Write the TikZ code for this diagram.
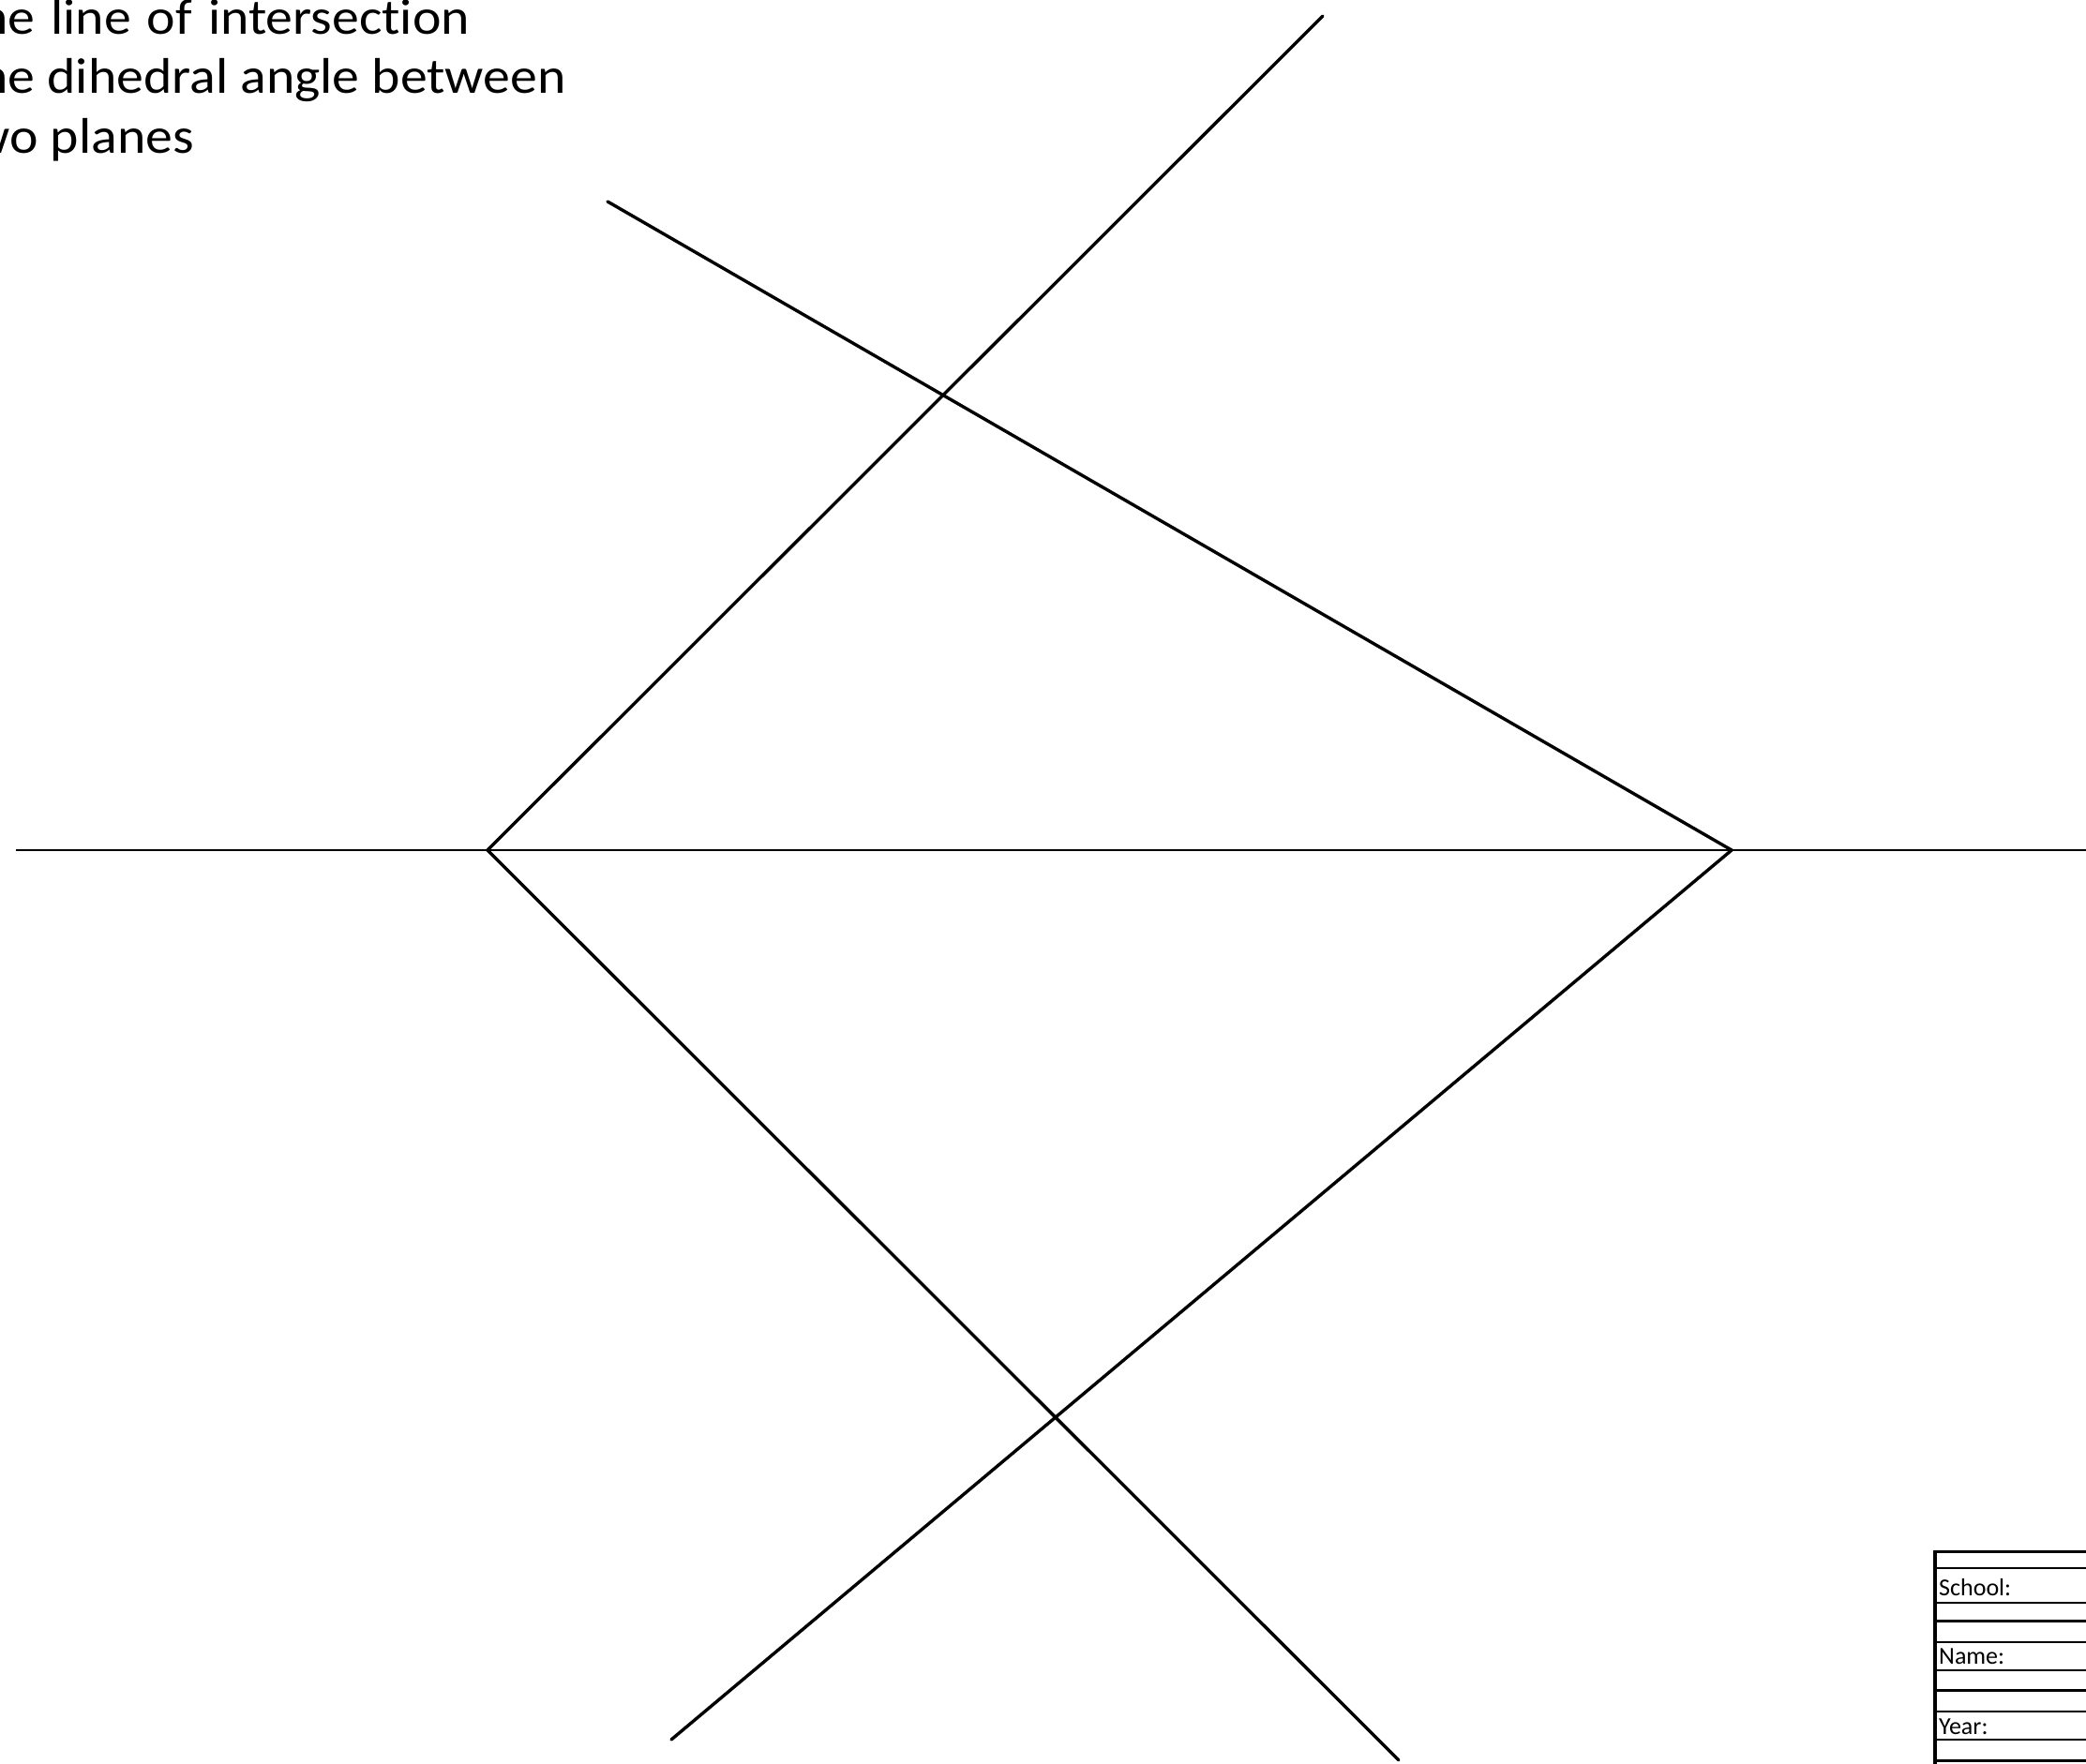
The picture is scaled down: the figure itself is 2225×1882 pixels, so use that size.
\documentclass[tikz,border=0pt]{standalone}
\usepackage{fontspec}
\setmainfont{Carlito}[Ligatures=NoCommon]
\newfontfamily\capfont{Carlito}[FakeStretch=1.08, Ligatures=NoCommon]
\tikzset{
  plane/.style={line width=3.4pt, line cap=round, line join=miter},
  axis/.style={line width=2.4pt},
  thickrule/.style={line width=3pt},
  thinrule/.style={line width=1.4pt},
  label/.style={inner sep=0pt, anchor=base west, font=\fontsize{26}{31}\selectfont},
  caption/.style={inner sep=0pt, anchor=base west, font=\capfont\fontsize{53.5}{63.5}\selectfont}
}
\begin{document}
\begin{tikzpicture}[x=1pt,y=-1pt]
\useasboundingbox (0,0) rectangle (2225,1882);
\clip (0,0) rectangle (2225,1882);
% caption text (left part cut off by page edge)
\node[caption] (t1) at (-50,36) {\spaceskip=17pt The line of intersection};
\node[caption] (t2) at (-50,99.5) {The dihedral angle between};
\node[caption] (t3) at (-50,163) {two planes};
% key points
\coordinate (L) at (520,907);
\coordinate (R) at (1847,907);
\coordinate (axL) at (17,907);
\coordinate (axR) at (2225,907);
\coordinate (A) at (1411,17);
\coordinate (B) at (648,215);
\coordinate (C) at (716,1856);
\coordinate (D) at (1492,1878);
% line of intersection
\draw[axis] (axL) -- (axR);
% upper plane
\draw[plane] (A) -- (L) -- (D);
% lower plane
\draw[plane] (B) -- (R) -- (C);
% title block
\draw[line width=4pt] (2064,1653.5) -- (2064,1882);
\foreach \y in {1655,1729,1803,1878} \draw[thickrule] (2062,\y) -- (2225,\y);
\foreach \y in {1673,1710,1752,1782,1826,1856} \draw[thinrule] (2064,\y) -- (2225,\y);
\node[label] (school) at (2068,1702) {School:};
\node[label] (name) at (2068,1775) {Name:};
\node[label] (year) at (2068,1850) {Year:};
\end{tikzpicture}
\end{document}
